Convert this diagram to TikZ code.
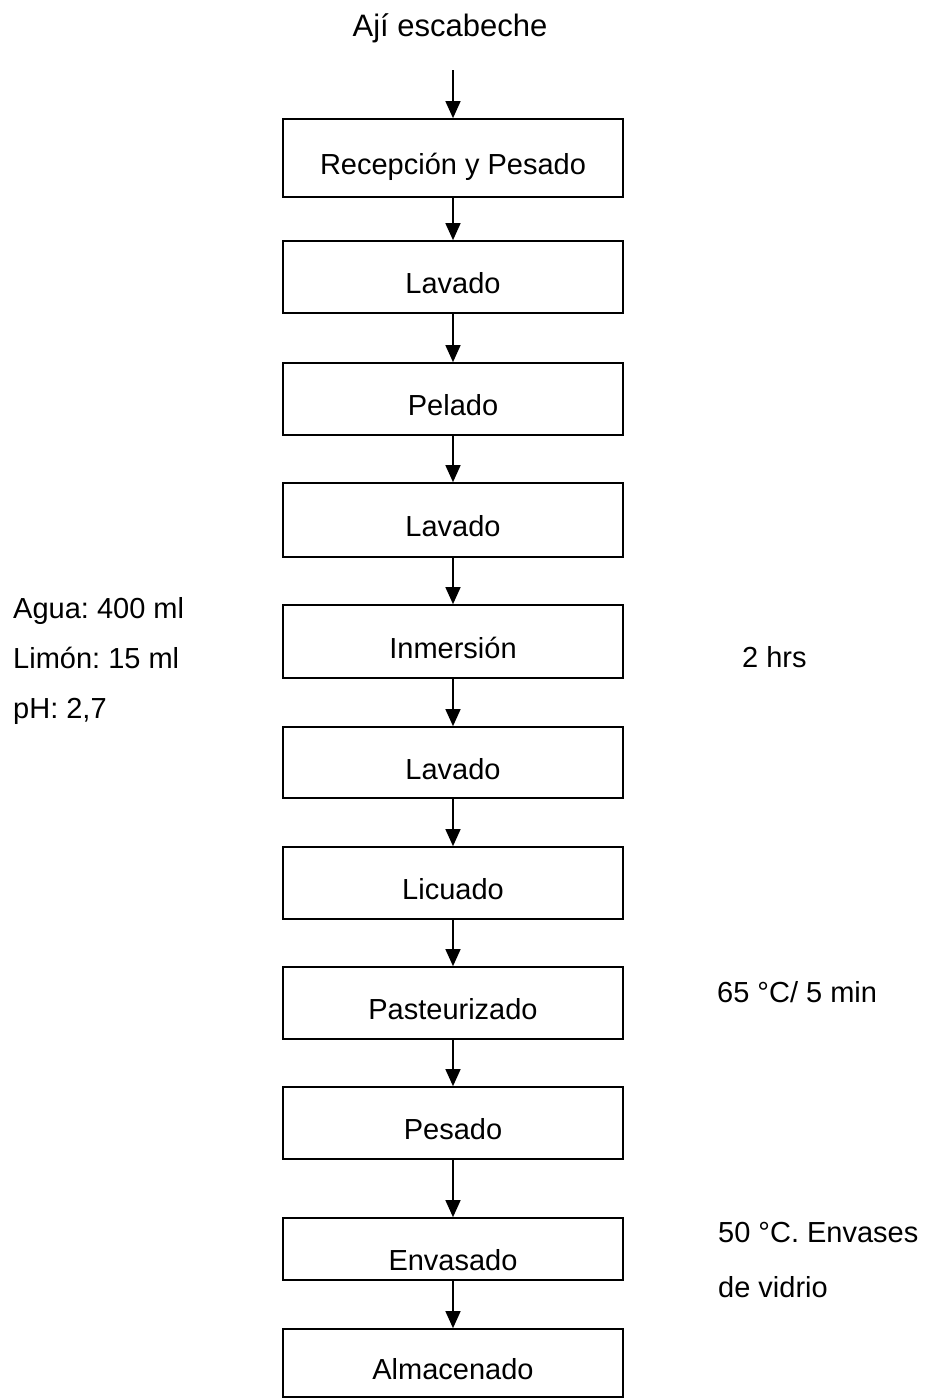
\documentclass[tikz,border=0pt]{standalone}
\usepackage{fontspec}
\setmainfont{Liberation Sans}
\usetikzlibrary{arrows.meta}
\frenchspacing
\begin{document}
\begin{tikzpicture}[x=1pt,y=-1pt,
  txt/.style={inner sep=0pt, font=\fontsize{29}{34}\selectfont},
  stepbox/.style={draw, line width=1.7pt, minimum width=340pt, inner sep=0pt,
    text height=33pt, text depth=0pt, font=\fontsize{29}{34}\selectfont},
  arr/.style={line width=1.4pt, -{Triangle[length=17pt,width=15pt]}}]
\useasboundingbox (0,0) rectangle (927,1400);
\node[txt, anchor=base, font=\fontsize{31}{36}\selectfont] (title) at (450,36) {Ají escabeche};
\coordinate (start) at (453,70);
\node[stepbox, minimum height=78pt] (b1) at (453,158) {Recepción y Pesado};
\node[stepbox, minimum height=72pt] (b2) at (453,277) {Lavado};
\node[stepbox, minimum height=72pt] (b3) at (453,399) {Pelado};
\node[stepbox, minimum height=74pt] (b4) at (453,520) {Lavado};
\node[stepbox, minimum height=73pt] (b5) at (453,641.5) {Inmersión};
\node[stepbox, minimum height=71pt] (b6) at (453,762.5) {Lavado};
\node[stepbox, minimum height=72pt] (b7) at (453,883) {Licuado};
\node[stepbox, minimum height=72pt] (b8) at (453,1003) {Pasteurizado};
\node[stepbox, minimum height=72pt] (b9) at (453,1123) {Pesado};
\node[stepbox, minimum height=62pt, text height=42pt] (b10) at (453,1249) {Envasado};
\node[stepbox, minimum height=68pt] (b11) at (453,1363) {Almacenado};
\draw[arr] (start) -- (b1.north);
\draw[arr] (b1) -- (b2);
\draw[arr] (b2) -- (b3);
\draw[arr] (b3) -- (b4);
\draw[arr] (b4) -- (b5);
\draw[arr] (b5) -- (b6);
\draw[arr] (b6) -- (b7);
\draw[arr] (b7) -- (b8);
\draw[arr] (b8) -- (b9);
\draw[arr] (b9) -- (b10);
\draw[arr] (b10) -- (b11);
\node[txt, anchor=base west] (agua) at (13,618) {Agua: 400 ml};
\node[txt, anchor=base west] (limon) at (13,668) {Limón: 15 ml};
\node[txt, anchor=base west] (ph) at (13,718) {pH: 2,7};
\node[txt, anchor=base west] (hrs) at (742,667) {2 hrs};
\node[txt, anchor=base west] (temp) at (717,1002) {65 °C/ 5 min};
\node[txt, anchor=base west] (env1) at (718,1242) {50 °C. Envases};
\node[txt, anchor=base west] (env2) at (718,1297) {de vidrio};
\end{tikzpicture}
\end{document}
